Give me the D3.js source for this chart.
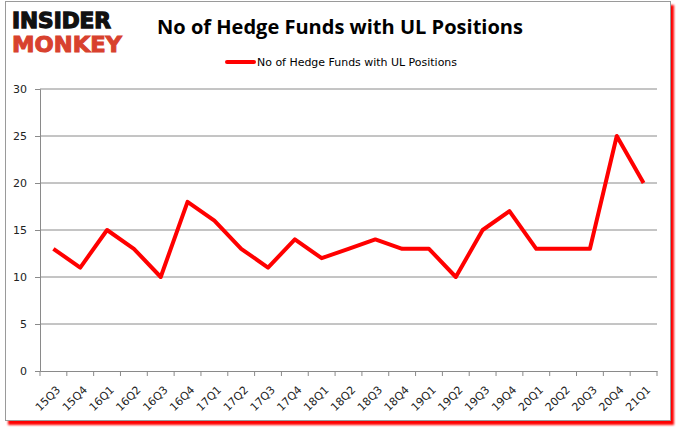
<!DOCTYPE html>
<html>
<head>
<meta charset="utf-8">
<script src="https://cdn.jsdelivr.net/npm/d3@7"></script>
<style>
  body { margin: 0; background: #fff; }
  svg { display: block; }
</style>
</head>
<body>
<div id="chart"></div>
<script>
// chart data
const quarters = ["15Q3","15Q4","16Q1","16Q2","16Q3","16Q4","17Q1","17Q2","17Q3","17Q4","18Q1","18Q2",
  "18Q3","18Q4","19Q1","19Q2","19Q3","19Q4","20Q1","20Q2","20Q3","20Q4","21Q1"];
const funds = [13, 11, 15, 13, 10, 18, 16, 13, 11, 14, 12, 13, 14, 13, 13, 10, 15, 17, 13, 13, 13, 25, 20];
const yTicks = [0, 5, 10, 15, 20, 25, 30];
const seriesName = "No of Hedge Funds with UL Positions";

const width = 678, height = 431;
const margin = {top: 89, right: 21, bottom: 60, left: 40};

const svg = d3.select("#chart").append("svg")
  .attr("width", width)
  .attr("height", height);

// frame with red shadow
const defs = svg.append("defs");
const sh = defs.append("filter").attr("id", "blur").attr("x", "-5%").attr("y", "-5%").attr("width", "110%").attr("height", "110%");
sh.append("feGaussianBlur").attr("stdDeviation", 1.2);
svg.append("rect")
  .attr("x", 8).attr("y", 5).attr("width", 666).attr("height", 420)
  .attr("fill", "#ff0000").attr("filter", "url(#blur)");
svg.append("rect")
  .attr("x", 5.5).attr("y", 1.5).attr("width", 665).attr("height", 419)
  .attr("fill", "#fff").attr("stroke", "#9a9a9a").attr("stroke-width", 1);

// logo
svg.append("text")
  .attr("x", 12).attr("y", 28)
  .attr("font-family", "DejaVu Sans").attr("font-weight", "bold")
  .attr("font-size", 21)
  .attr("textLength", 99).attr("lengthAdjust", "spacingAndGlyphs")
  .attr("fill", "#111").attr("stroke", "#111").attr("stroke-width", 1.3)
  .text("INSIDER");
svg.append("text")
  .attr("x", 12).attr("y", 52)
  .attr("font-family", "DejaVu Sans").attr("font-weight", "bold")
  .attr("font-size", 22)
  .attr("textLength", 110).attr("lengthAdjust", "spacingAndGlyphs")
  .attr("fill", "#d8412e").attr("stroke", "#d8412e").attr("stroke-width", 1)
  .text("MONKEY");

// title
svg.append("text")
  .attr("x", 340).attr("y", 34)
  .attr("text-anchor", "middle")
  .attr("font-family", "Open Sans").attr("font-weight", "bold")
  .attr("font-size", 19).attr("fill", "#000")
  .attr("textLength", 366).attr("lengthAdjust", "spacingAndGlyphs")
  .text("No of Hedge Funds with UL Positions");

// legend
svg.append("line")
  .attr("x1", 227).attr("x2", 254).attr("y1", 62).attr("y2", 62)
  .attr("stroke", "#ff0000").attr("stroke-width", 4).attr("stroke-linecap", "round");
svg.append("text")
  .attr("x", 257).attr("y", 66)
  .attr("font-family", "DejaVu Sans").attr("font-size", 11)
  .attr("textLength", 200).attr("lengthAdjust", "spacingAndGlyphs")
  .attr("fill", "#000")
  .text(seriesName);

const x = d3.scaleBand()
  .domain(quarters)
  .range([margin.left, width - margin.right]);

const y = d3.scaleLinear()
  .domain([0, 30])
  .range([height - margin.bottom, margin.top]);

// gridlines
svg.append("g")
  .selectAll("line")
  .data(yTicks.filter(d => d > 0))
  .join("line")
  .attr("x1", margin.left).attr("x2", width - margin.right)
  .attr("y1", d => y(d)).attr("y2", d => y(d))
  .attr("stroke", "#8a8a8a").attr("stroke-width", 1);

// y axis
const yAxis = svg.append("g")
  .attr("transform", `translate(${margin.left},0)`)
  .call(d3.axisLeft(y).tickValues(yTicks).tickSize(5).tickPadding(8));
yAxis.select(".domain").attr("stroke", "#8a8a8a");
yAxis.selectAll(".tick line").attr("stroke", "#8a8a8a");
yAxis.selectAll("text")
  .attr("font-family", "DejaVu Sans").attr("font-size", 11).attr("fill", "#222");

// x axis
const xAxis = svg.append("g")
  .attr("transform", `translate(0,${height - margin.bottom})`)
  .call(d3.axisBottom(x).tickSize(5).tickSizeOuter(0));
xAxis.select(".domain").attr("stroke", "#8a8a8a");
// ticks sit on band boundaries
xAxis.selectAll(".tick line")
  .attr("x1", -x.bandwidth() / 2).attr("x2", -x.bandwidth() / 2)
  .attr("stroke", "#8a8a8a");
xAxis.append("line")
  .attr("x1", width - margin.right).attr("x2", width - margin.right)
  .attr("y1", 0).attr("y2", 5).attr("stroke", "#8a8a8a");
xAxis.selectAll(".tick text")
  .attr("font-family", "DejaVu Sans").attr("font-size", 11).attr("fill", "#222")
  .attr("text-anchor", "end")
  .attr("dy", 0)
  .attr("transform", "translate(2,14) rotate(-45)");

// series line
svg.append("path")
  .datum(funds)
  .attr("fill", "none")
  .attr("stroke", "#ff0000")
  .attr("stroke-width", 4)
  .attr("stroke-linejoin", "round")
  .attr("d", d3.line()
    .x((d, i) => x(quarters[i]) + x.bandwidth() / 2)
    .y(d => y(d)));
</script>
</body>
</html>
